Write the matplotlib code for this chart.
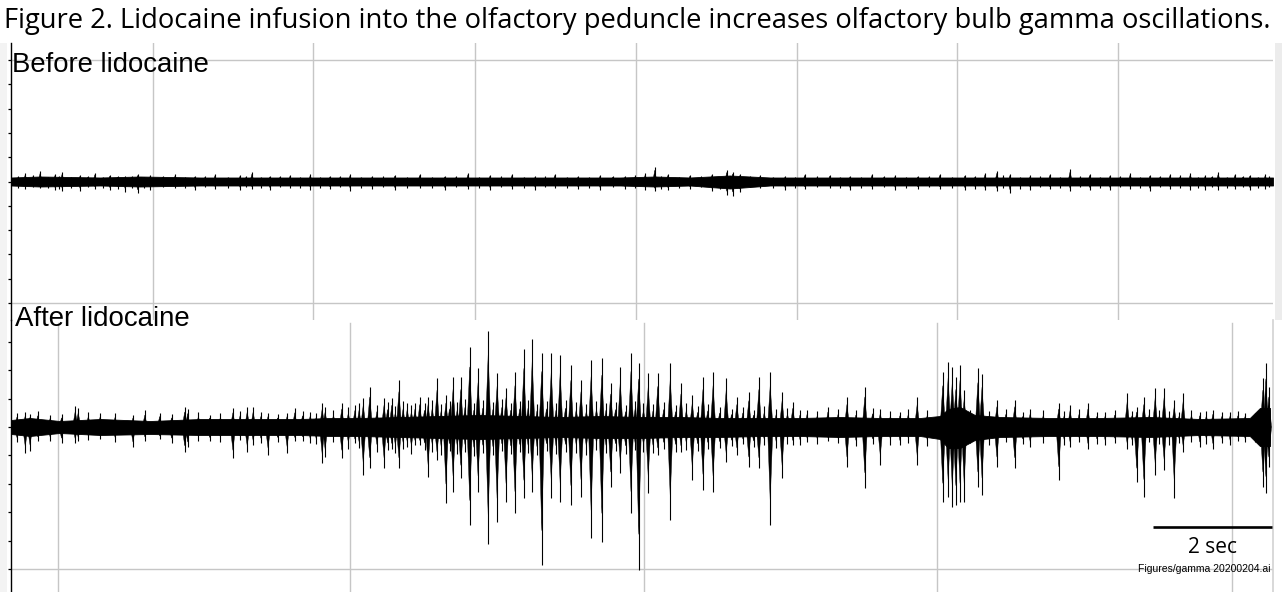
import matplotlib
matplotlib.use("Agg")
import matplotlib.pyplot as plt
from matplotlib.patches import Rectangle
from matplotlib.collections import PolyCollection

# ---------------- text ----------------
title = ("Figure 2. Lidocaine infusion into the olfactory peduncle increases "
         "olfactory bulb gamma oscillations.")
label_before = "Before lidocaine"
label_after = "After lidocaine"
scale_label = "2 sec"
file_label = "Figures/gamma 20200204.ai"
scale_bar_sec = 2.0

# ---------------- data (time in s, amplitude in arbitrary units) ----------------
# Before lidocaine: background band envelope
before_env_t = [0.00, 0.49, 1.50, 2.17, 3.18, 4.18, 5.19, 6.20, 7.21, 8.22, 9.23, 10.24,
                10.82, 11.41, 12.08, 12.76, 13.76, 14.77, 15.78, 16.62, 17.63, 18.64, 19.65, 21.21]
before_env_up = [4, 5, 4, 5, 4, 4, 4, 4, 4, 4, 4, 4, 5, 4, 6, 4, 4, 4, 4, 4, 4, 4, 4, 4]
before_env_dn = [4, 5, 4, 5, 4, 4, 4, 4, 4, 4, 4, 4, 5, 4, 7, 4, 4, 4, 4, 4, 4, 4, 4, 4]
# Before lidocaine: larger deflections
before_spk_t = [0.24, 0.49, 0.74, 0.86, 1.16, 1.41, 1.66, 1.92, 2.13, 2.34, 2.76, 3.09, 3.43,
                3.85, 4.05, 4.35, 4.69, 5.03, 5.36, 5.70, 6.07, 6.45, 6.87, 7.29, 7.68, 8.05,
                8.42, 8.81, 9.14, 9.53, 9.90, 10.32, 10.66, 10.82, 11.04, 11.41, 11.78, 12.03,
                12.13, 12.25, 12.59, 13.01, 13.34, 13.76, 14.10, 14.47, 14.86, 15.24, 15.61,
                16.03, 16.37, 16.57, 16.79, 17.13, 17.46, 17.80, 18.13, 18.47, 18.81, 19.14,
                19.48, 19.82, 20.07, 20.29, 20.57, 20.82, 21.08]
before_spk_up = [9, 11, 8, 10, 7, 9, 7, 6, 8, 7, 8, 6, 8, 7, 10, 6, 7, 8, 6, 8, 6, 7, 8, 6, 9, 7,
                 8, 6, 8, 6, 7, 6, 9, 15, 8, 7, 8, 12, 10, 8, 7, 6, 8, 7, 6, 8, 7, 6, 8,
                 7, 9, 11, 8, 7, 8, 13, 8, 7, 9, 7, 8, 9, 7, 10, 8, 7, 8]
before_spk_dn = [7, 6, 8, 9, 9, 7, 8, 10, 11, 8, 6, 8, 7, 8, 7, 8, 6, 8, 7, 9, 7, 8, 6, 8, 7, 8,
                 7, 8, 6, 7, 8, 7, 8, 9, 8, 7, 9, 13, 14, 10, 6, 8, 7, 6, 8, 7, 8, 7, 7,
                 8, 8, 9, 11, 8, 7, 9, 8, 8, 7, 9, 7, 8, 8, 8, 7, 8, 7]
# Before lidocaine: small deflections between them
before_small_t = [0.12, 0.37, 0.62, 0.80, 1.01, 1.29, 1.54, 1.79, 2.03, 2.24, 2.55, 2.93, 3.26,
                  3.64, 3.95, 4.20, 4.52, 4.86, 5.20, 5.53, 5.88, 6.26, 6.66, 7.08, 7.48, 7.87,
                  8.24, 8.62, 8.98, 9.34, 9.72, 10.11, 10.49, 10.93, 11.23, 11.60, 11.91, 12.42,
                  12.80, 13.18, 13.55, 13.93, 14.29, 14.67, 15.05, 15.43, 15.82, 16.20, 16.68,
                  16.96, 17.30, 17.63, 17.97, 18.30, 18.64, 18.98, 19.31, 19.65, 19.95, 20.18,
                  20.43, 20.70, 20.95, 21.15]
before_small_up = [6, 7, 5, 6, 5, 6, 5, 6, 6, 5, 6, 5, 6, 5, 6, 5, 6, 5, 5, 6, 5, 6, 5, 5, 6, 5,
                   6, 5, 6, 5, 5, 6, 7, 6, 5, 6, 5, 6, 5, 5, 6, 5, 5, 6, 5, 6, 5, 6, 7, 5, 6, 5,
                   6, 5, 6, 5, 6, 7, 5, 6, 5, 6, 5, 6]
before_small_dn = [6, 5, 6, 7, 6, 5, 6, 7, 6, 6, 5, 6, 5, 6, 5, 6, 5, 6, 6, 5, 6, 5, 6, 6, 5, 6,
                   5, 6, 5, 6, 6, 5, 6, 7, 6, 5, 7, 5, 6, 6, 5, 6, 6, 5, 6, 5, 6, 7, 6, 7, 5, 6,
                   5, 6, 5, 6, 5, 6, 6, 5, 6, 5, 6, 5]

# After lidocaine: background band envelope
after_env_t = [0.00, 0.32, 0.82, 1.50, 2.34, 3.18, 4.02, 4.86, 5.36, 5.87, 6.54, 7.21, 7.88,
               8.55, 9.23, 9.90, 10.57, 11.24, 11.92, 12.59, 13.26, 13.93, 14.61, 15.28, 15.61,
               15.75, 15.95, 16.20, 16.62, 17.46, 18.30, 19.14, 19.98, 20.82, 20.99, 21.16]
after_env_up = [7, 9, 6, 8, 6, 8, 8, 8, 9, 9, 10, 11, 12, 11, 10, 11, 10, 10, 9, 9, 9,
                10, 9, 9, 11, 18, 20, 12, 10, 9, 9, 10, 8, 9, 19, 19]
after_env_dn = [7, 9, 6, 8, 7, 8, 8, 8, 9, 9, 10, 11, 12, 11, 10, 11, 11, 10, 10, 9, 9,
                10, 9, 9, 12, 21, 21, 13, 10, 9, 9, 10, 8, 9, 19, 19]
# After lidocaine: larger deflections
after_spk_t = [0.24, 0.32, 0.66, 1.08, 1.13, 1.50, 2.05, 2.50, 2.92, 2.97, 3.34, 3.73, 3.97, 4.07,
               4.32, 4.64, 4.77, 5.03, 5.23, 5.28,
               5.56, 5.78, 5.92, 6.03, 6.27, 6.40, 6.52, 6.66, 6.79, 6.87, 7.01, 7.16, 7.31, 7.43,
               7.56, 7.71, 7.85, 8.02, 8.17, 8.32, 8.47, 8.62, 8.76, 8.92, 9.08, 9.23, 9.41, 9.58,
               9.75, 9.93, 10.08, 10.24, 10.42, 10.55, 10.71, 10.87, 11.08, 11.26, 11.45, 11.63,
               11.80,
               12.02, 12.20, 12.40, 12.57, 12.76, 12.96, 13.14, 13.38, 13.73, 14.05, 14.35, 14.61,
               14.94, 15.23, 15.66, 15.75, 15.82, 15.88, 15.95, 16.02,
               16.25, 16.32, 16.57, 16.87, 17.13, 17.61, 17.80, 18.10, 18.39, 18.76, 18.92, 19.04,
               19.23, 19.38, 19.55, 19.70, 19.98, 20.20, 20.49, 20.74, 21.04, 21.09, 21.14]
after_spk_up = [15, 13, 12, 21, 19, 14, 12, 14, 20, 18, 12, 19, 20, 20, 14, 14, 19, 15, 24, 20,
                24, 22, 29, 40, 29, 29, 47, 24, 24, 30, 30, 49, 32, 50, 50, 80, 59, 96, 54, 39,
                55, 78, 88, 74, 74, 72, 62, 47, 67, 69, 44, 60, 74, 64, 54, 54, 64, 44, 32, 50,
                55,
                49, 30, 35, 50, 55, 35, 25, 17, 20, 30, 40, 18, 15, 30, 55, 65, 60, 50, 62, 37,
                59, 53, 27, 27, 18, 24, 22, 24, 15, 34, 20, 30, 39, 39, 27, 34, 15, 17, 15, 14,
                49, 64, 40]
after_spk_dn = [26, 24, 14, 16, 14, 12, 20, 12, 25, 20, 14, 31, 25, 18, 28, 26, 14, 16, 36, 30,
                31, 16, 48, 41, 41, 22, 41, 20, 18, 18, 50, 33, 76, 65, 51, 98, 65, 117, 95, 75,
                86, 71, 65, 138, 71, 75, 78, 70, 111, 115, 60, 46, 86, 143, 66, 28, 93, 25, 53, 63,
                65,
                35, 28, 40, 41, 98, 51, 18, 15, 14, 40, 61, 38, 18, 38, 75, 70, 80, 78, 75, 75,
                60, 68, 40, 41, 20, 53, 20, 22, 18, 22, 55, 70, 48, 43, 71, 25, 20, 22, 18, 15,
                60, 66, 40]
# After lidocaine: small deflections between them
after_small_t = [0.10, 0.45, 0.85, 1.30, 1.75, 2.25, 2.70, 3.15, 3.52, 3.85, 4.20, 4.48, 4.90,
                 5.13, 5.42, 5.67, 5.85, 6.15, 6.33, 6.46, 6.59, 6.73, 6.95, 7.08, 7.23, 7.37,
                 7.50, 7.63, 7.78, 7.93, 8.10, 8.25, 8.40, 8.55, 8.69, 8.84, 9.00, 9.16, 9.32,
                 9.50, 9.67, 9.84, 10.00, 10.16, 10.33, 10.49, 10.63, 10.79, 10.97, 11.17, 11.35,
                 11.54, 11.71, 11.91, 12.11, 12.30, 12.48, 12.66, 12.86, 13.05, 13.26, 13.55,
                 13.90, 14.20, 14.48, 14.78, 15.08, 15.40, 16.12, 16.44, 16.72, 17.00, 17.35,
                 17.70, 17.95, 18.25, 18.55, 18.84, 19.13, 19.30, 19.47, 19.63, 19.84, 20.09,
                 20.35, 20.62, 20.90]
after_small_up = [14, 16, 13, 15, 14, 17, 13, 15, 14, 16, 15, 13, 16, 14, 17,
                  20, 24, 22, 25, 21, 26, 22, 24, 27, 23, 26, 25, 28, 24, 27, 25, 28, 24, 26,
                  27, 23, 26, 24, 27, 25, 23, 26, 24, 25, 22, 26, 24, 23, 25, 22, 24, 21, 23,
                  20,
                  18, 20, 17, 21, 18, 19, 17, 16, 18, 17, 19, 16, 18, 17,
                  17, 16, 18, 15, 17, 16, 18, 15, 17, 16, 18, 17, 16, 15, 17, 16, 15, 16, 14]
after_small_dn = [15, 14, 16, 13, 15, 14, 16, 14, 15, 13, 16, 15, 14, 17, 15,
                  22, 21, 25, 23, 26, 22, 27, 23, 25, 28, 24, 27, 25, 29, 26, 28, 24, 27, 25,
                  26, 28, 24, 27, 25, 26, 28, 23, 26, 24, 27, 23, 25, 26, 22, 25, 23, 24, 22,
                  21,
                  19, 17, 20, 18, 21, 17, 18, 17, 16, 19, 17, 18, 16, 19,
                  16, 18, 15, 17, 16, 18, 15, 17, 16, 18, 15, 17, 18, 16, 15, 17, 16, 14, 15]

# ---------------- layout ----------------
W, H = 1282, 592
DPI = 100
T_END = 21.21                      # visible time span (s)
before_grid_t = [2.39, 5.08, 7.80, 10.50, 13.21, 15.90, 18.60]
after_grid_t = [0.79, 5.70, 10.64, 15.56, 20.52]
before_tick_step, before_ylim = 24.3, 138.5
after_tick_step, after_ylim = (28.4, (-165, 107))
GRID = "#c6c6c6"

fig = plt.figure(figsize=(W / DPI, H / DPI), dpi=DPI)
fig.patch.set_facecolor("white")


def fx(px):
    return px / W


def fy(py):
    return 1 - py / H


# light gray window strips at the edges
fig.patches.append(Rectangle((0, fy(592)), fx(7), fy(43) - fy(592), transform=fig.transFigure,
                             facecolor="#f3f3f3", edgecolor="none", zorder=0))
fig.patches.append(Rectangle((fx(1275), fy(320)), fx(7), fy(43) - fy(320),
                             transform=fig.transFigure, facecolor="#ececec",
                             edgecolor="none", zorder=0))

ax1 = fig.add_axes([fx(11), fy(320), fx(1262), (320 - 43) / H])
ax2 = fig.add_axes([fx(11), 0, fx(1262), (592 - 320) / H])

for ax in (ax1, ax2):
    ax.set_facecolor("none")
    for s in ("top", "bottom", "right"):
        ax.spines[s].set_visible(False)
    ax.spines["left"].set_color("black")
    ax.spines["left"].set_linewidth(1.0)
    ax.set_xlim(0, T_END)
    ax.set_xticks([])
    ax.tick_params(axis="y", direction="out", length=2.4, width=0.9, color="black",
                   labelleft=False)

ax1.set_ylim(-before_ylim, before_ylim)
ax1.set_yticks([before_tick_step * k for k in range(-5, 6)])
ax2.set_ylim(*after_ylim)
ax2.set_yticks([after_tick_step * k for k in range(-5, 4)])

for t in before_grid_t:
    ax1.axvline(t, color=GRID, lw=1.0, zorder=1)
ax1.axhline(5 * before_tick_step, color=GRID, lw=1.0, zorder=1)
ax1.axhline(-5 * before_tick_step, color=GRID, lw=1.0, zorder=1)
for t in after_grid_t:
    ax2.axvline(t, ymin=0, ymax=0.99, color=GRID, lw=1.0, zorder=1)
ax2.axhline(-5 * after_tick_step, color=GRID, lw=1.0, zorder=1)
ax2.spines["right"].set_visible(True)
ax2.spines["right"].set_color("#d2d2d2")
ax2.spines["right"].set_linewidth(1.2)


def draw_trace(ax, env_t, env_up, env_dn, deflections, hw):
    ax.fill_between(env_t, [-d for d in env_dn], env_up, color="black", lw=0.6,
                    edgecolor="black", zorder=3)
    polys = []
    for spk_t, spk_up, spk_dn, frac in deflections:
        for t, u, d in zip(spk_t, spk_up, spk_dn):
            polys.append([(t - hw, 0), (t, frac * u), (t + hw, 0)])
            polys.append([(t - hw, 0), (t, -frac * d), (t + hw, 0)])
        ax.vlines(spk_t, [-d for d in spk_dn], spk_up, color="black", lw=0.8, zorder=3)
    ax.add_collection(PolyCollection(polys, facecolors="black", edgecolors="black",
                                     linewidths=0.3, zorder=3))


draw_trace(ax1, before_env_t, before_env_up, before_env_dn,
           [(before_spk_t, before_spk_up, before_spk_dn, 0.75),
            (before_small_t, before_small_up, before_small_dn, 0.7)], hw=0.035)
draw_trace(ax2, after_env_t, after_env_up, after_env_dn,
           [(after_spk_t, after_spk_up, after_spk_dn, 0.75),
            (after_small_t, after_small_up, after_small_dn, 0.7)], hw=0.045)

# scale bar
bar_end = 21.19
ax2.plot([bar_end - scale_bar_sec, bar_end], [-100, -100], color="black", lw=1.9,
         solid_capstyle="butt", zorder=4)

renderer = fig.canvas.get_renderer()


def fit_text(x, y, s, target_w, family, size0, **kw):
    t = fig.text(fx(x), fy(y), s, family=family, fontsize=size0, **kw)
    w = t.get_window_extent(renderer).width
    t.set_fontsize(size0 * target_w / w)
    return t


fit_text(4, 28, title, 1271, "Open Sans", 17, ha="left", va="baseline", color="black")
fit_text(12, 72, label_before, 197, "Liberation Sans", 20, ha="left", va="baseline", zorder=5)
fit_text(15, 326, label_after, 175, "Liberation Sans", 20, ha="left", va="baseline", zorder=5)
fit_text(1213, 553, scale_label, 49, "Open Sans", 17, ha="center", va="baseline", zorder=5)
fit_text(1270, 569, file_label, 132, "Liberation Sans", 8, ha="right", va="center", zorder=5)

fig.savefig("out.png", dpi=DPI, facecolor="white")
